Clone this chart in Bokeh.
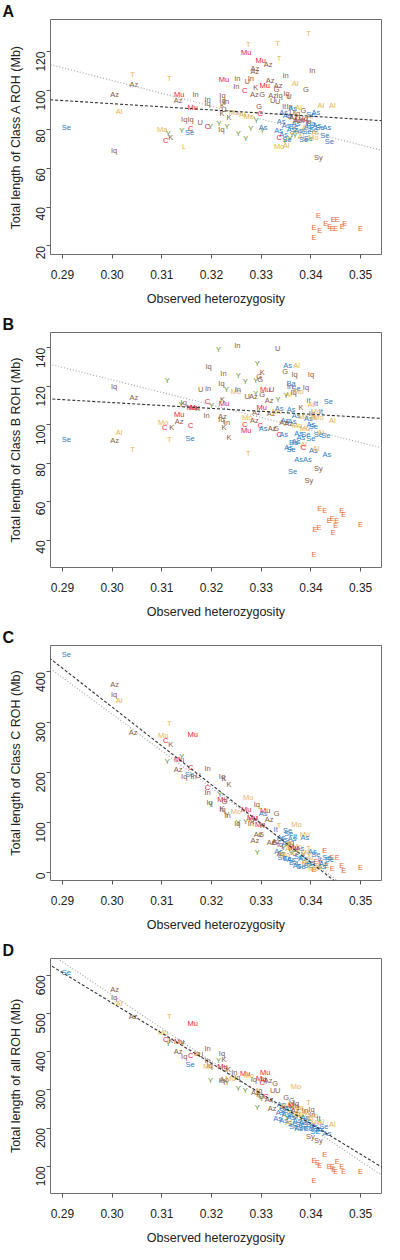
import math
from bokeh.plotting import figure
from bokeh.models import ColumnDataSource, Range1d, FixedTicker, Slope
from bokeh.layouts import column
from bokeh.core.properties import value
from bokeh.embed import file_html
from bokeh.resources import INLINE

# ---------------- data ----------------
x_ticks = [0.29, 0.30, 0.31, 0.32, 0.33, 0.34, 0.35]
panel_letters = ["A", "B", "C", "D"]
y_titles = ["Total length of Class A ROH (Mb)", "Total length of Class B ROH (Mb)",
            "Total length of Class C ROH (Mb)", "Total length of all ROH (Mb)"]
y_ticks_a = [20, 40, 60, 80, 100, 120]
y_ticks_b = [40, 60, 80, 100, 120, 140]
y_ticks_c = [0, 100, 200, 300, 400]
y_ticks_d = [100, 200, 300, 400, 500, 600]

# regression fits (slope, intercept): dashed, dotted
fit_dashed = [(-160.7, 141.4), (-151.7, 157.1), (-7750.0, 2655.0), (-7920.0, 2903.5)]
fit_dotted = [(-662.0, 303.7), (-651.7, 318.9), (-7317.0, 2510.9), (-8695.0, 3156.6)]

points_a = [
    ("T", .3274, 123.7), ("T", .3333, 124.2), ("T", .3395, 129.1), ("T", .3336, 116.5), ("T", .3041, 108.2), ("T", .3115, 106.3),
    ("Mu", .3270, 119.5), ("Mu", .3299, 115.3), ("Az", .3314, 113.6), ("Az", .3287, 111.4), ("Az", .3287, 109.7),
    ("In", .3403, 110.2), ("In", .3349, 107.7), ("Mu", .3225, 105.7), ("In", .3252, 106.0), ("U", .3272, 104.7), ("In", .3279, 106.0),
    ("In", .3250, 102.0), ("K", .3289, 101.6), ("Mu", .3307, 102.6), ("Az", .3318, 105.0), ("Az", .3334, 102.6), ("Al", .3368, 103.5), ("G", .3390, 100.3),
    ("Az", .3044, 103.0), ("Az", .3005, 97.9), ("Mu", .3135, 98.1), ("Az", .3133, 95.0), ("In", .3168, 98.1), ("C", .3267, 100.1), ("Az", .3286, 97.9), ("G", .3302, 97.9),
    ("Az", .3323, 97.6), ("Iq", .3337, 97.6), ("U", .3323, 95.0), ("U", .3333, 94.2), ("Iq", .3351, 98.2), ("U", .3356, 97.1), ("G", .3331, 100.4),
    ("Mu", .3162, 91.3), ("In", .3192, 95.4), ("Iq", .3192, 93.4), ("Iq", .3222, 97.6), ("Iq", .3222, 95.0), ("In", .3229, 94.5), ("K", .3222, 92.5),
    ("K", .3221, 88.3), ("U", .3225, 90.0), ("K", .3235, 86.1), ("Iq", .3145, 84.9), ("Iq", .3158, 85.3), ("U", .3177, 83.7), ("C", .3158, 80.2),
    ("Se", .3156, 78.2), ("C", .3192, 81.2), ("Y", .3198, 81.2), ("Y", .3215, 83.2), ("Iq", .3220, 79.9), ("Y", .3231, 81.2), ("Y", .3254, 77.7),
    ("Y", .3269, 75.1), ("Y", .3279, 80.4), ("Y", .3302, 79.4), ("As", .3304, 80.9), ("Y", .3140, 79.5), ("Ma", .3101, 79.9), ("Y", .3113, 78.0),
    ("K", .3118, 76.0), ("C", .3108, 74.0), ("L", .3145, 71.4), ("Al", .3014, 89.1), ("Se", .2908, 80.7), ("Iq", .3004, 69.2), ("Sy", .3415, 65.5),
    ("Al", .3420, 92.5), ("Al", .3443, 92.0), ("Se", .3428, 76.8), ("Se", .3437, 73.5), ("As", .3432, 80.7), ("Se", .3418, 80.7),
    ("Ma", .3245, 88.5), ("Al", .3262, 87.5), ("Mo", .3275, 86.5), ("Y", .3290, 84.5), ("G", .3296, 91.6), ("C", .3298, 88.2),
    ("It", .3346, 91.7), ("As", .3363, 90.8),
    ("E", .3415, 35.5), ("E", .3406, 29.3), ("E", .3418, 27.9), ("E", .3430, 31.3), ("E", .3438, 30.1), ("E", .3443, 28.8), ("E", .3450, 28.8),
    ("E", .3445, 33.7), ("E", .3453, 33.4), ("E", .3463, 30.1), ("E", .3468, 31.8), ("E", .3406, 24.2), ("E", .3500, 28.9),
    ("As", .3340, 84.0), ("As", .3350, 82.0), ("As", .3335, 79.5), ("As", .3345, 77.5), ("Se", .3352, 75.0), ("As", .3360, 80.0), ("Y", .3348, 74.5),
    ("Y", .3358, 75.5), ("C", .3336, 75.6), ("Mo", .3336, 71.4), ("Al", .3350, 71.8), ("Az", .3365, 86.0), ("Iq", .3372, 88.0), ("Mu", .3378, 85.0),
    ("As", .3370, 83.0), ("It", .3382, 84.5), ("Al", .3388, 81.0), ("Mo", .3378, 78.8), ("Se", .3392, 79.0), ("As", .3395, 81.5), ("Ba", .3400, 83.0),
    ("Se", .3405, 79.8), ("As", .3412, 82.0), ("Al", .3398, 86.5), ("G", .3385, 89.5), ("Se", .3365, 81.2), ("As", .3375, 79.5), ("Y", .3368, 77.0),
    ("Al", .3380, 76.5), ("Se", .3395, 75.5), ("Mo", .3405, 76.0), ("Se", .3400, 87.5), ("As", .3410, 88.5), ("Al", .3375, 91.0), ("U", .3362, 88.5),
    ("G", .3358, 86.5), ("Iq", .3388, 85.5), ("In", .3395, 84.0), ("Y", .3362, 77.2), ("Se", .3385, 74.8), ("Al", .3408, 78.5), ("As", .3352, 87.2),
    ("As", .3345, 88.5), ("In", .3357, 91.5), ("Az", .3372, 84.5),
]

points_b = [
    ("Y", .3214, 139.0), ("In", .3252, 141.5), ("U", .3333, 139.5), ("Y", .3292, 131.8), ("Iq", .3194, 130.5), ("As", .3353, 131.0), ("Al", .3371, 131.0),
    ("G", .3348, 127.9), ("In", .3224, 126.7), ("Y", .3254, 125.9), ("Iq", .3367, 126.3), ("Iq", .3400, 126.2), ("K", .3302, 127.2), ("G", .3296, 125.0),
    ("G", .3298, 123.7), ("Y", .3289, 123.3), ("Y", .3268, 122.8), ("Y", .3111, 123.3), ("Iq", .3220, 121.6), ("Iq", .3004, 119.9), ("U", .3178, 118.2),
    ("In", .3193, 119.1), ("Y", .3230, 118.2), ("Mo", .3249, 117.4), ("In", .3253, 118.3), ("Mu", .3308, 118.6), ("U", .3321, 118.6), ("G", .3302, 115.7),
    ("U", .3272, 114.8), ("Az", .3284, 114.5), ("Y", .3289, 116.5), ("Az", .3044, 114.0), ("Iq", .3144, 111.4), ("Y", .3139, 110.5), ("Y", .3200, 110.1),
    ("C", .3192, 112.3), ("Mu", .3225, 111.1), ("K", .3222, 113.1), ("Mu", .3160, 109.2), ("Mu", .3166, 108.9), ("K", .3172, 108.5), ("Mu", .3301, 108.9),
    ("Az", .3316, 112.6), ("Y", .3334, 113.0), ("As", .3336, 108.4), ("Mu", .3135, 105.5), ("In", .3190, 105.1), ("Az", .3135, 101.6), ("Mo", .3103, 101.1),
    ("C", .3158, 99.5), ("C", .3106, 98.7), ("K", .3120, 98.7), ("Al", .3014, 95.8), ("Se", .2908, 92.4), ("Az", .3005, 91.9), ("T", .3041, 87.3),
    ("T", .3115, 92.4), ("Se", .3157, 93.1), ("K", .3235, 93.6), ("K", .3225, 98.8), ("In", .3231, 101.4), ("Az", .3222, 104.2), ("Iq", .3220, 102.8),
    ("C", .3267, 100.0), ("Mu", .3270, 97.0), ("Mo", .3272, 103.8), ("Az", .3286, 102.4), ("T", .3274, 85.1), ("C", .3298, 99.7), ("As", .3304, 98.3),
    ("Az", .3322, 98.3), ("G", .3330, 98.3), ("C", .3336, 94.8), ("Az", .3320, 106.0), ("Az", .3290, 106.5), ("Mo", .3332, 107.0),
    ("Se", .3435, 111.9), ("Al", .3443, 102.4), ("It", .3420, 107.2), ("As", .3432, 84.6), ("As", .3375, 82.2), ("As", .3393, 82.2), ("Se", .3363, 75.7),
    ("Sy", .3415, 77.1), ("Sy", .3396, 71.0),
    ("E", .3418, 56.5), ("E", .3428, 55.6), ("E", .3462, 55.3), ("E", .3466, 53.3), ("E", .3437, 50.5), ("E", .3443, 51.1), ("E", .3452, 50.2),
    ("E", .3450, 47.6), ("E", .3445, 44.3), ("E", .3408, 45.6), ("E", .3416, 46.8), ("E", .3500, 48.0), ("E", .3406, 32.9),
    ("Ba", .3360, 121.5), ("Se", .3370, 119.0), ("In", .3358, 120.0), ("Iq", .3390, 119.5), ("Al", .3355, 116.0), ("Y", .3350, 115.5), ("Iq", .3365, 117.0),
    ("Mo", .3375, 117.5), ("It", .3395, 112.5), ("It", .3410, 111.0), ("Al", .3400, 110.5), ("As", .3360, 108.0), ("As", .3370, 105.0), ("Mo", .3385, 104.5),
    ("As", .3395, 103.5), ("Iq", .3402, 106.0), ("Mo", .3410, 107.0), ("Al", .3405, 104.0), ("K", .3380, 109.0), ("As", .3348, 102.5), ("Az", .3345, 101.0),
    ("Az", .3355, 100.5), ("As", .3362, 102.0), ("Mo", .3372, 99.5), ("Mo", .3388, 98.0), ("As", .3400, 100.0), ("Se", .3405, 99.0), ("As", .3375, 95.5),
    ("As", .3380, 93.5), ("As", .3370, 91.5), ("Se", .3390, 95.0), ("Se", .3400, 93.0), ("Al", .3385, 90.0), ("C", .3385, 88.0), ("As", .3355, 88.0),
    ("Se", .3360, 87.0), ("Ba", .3365, 91.0), ("Se", .3415, 95.0), ("Al", .3420, 96.0), ("Se", .3430, 94.3), ("As", .3405, 86.5), ("Al", .3410, 87.5),
    ("As", .3345, 95.0), ("Mo", .3415, 104.0),
]

points_c = [
    ("Se", .2908, 435.1), ("Az", .3005, 375.5), ("Iq", .3004, 355.0), ("Al", .3014, 342.5), ("Az", .3042, 279.0), ("T", .3115, 297.5), ("Mu", .3162, 274.3),
    ("Mo", .3103, 272.4), ("C", .3108, 262.4), ("K", .3118, 255.8), ("Y", .3140, 231.4), ("Mu", .3135, 224.7), ("Y", .3111, 221.4), ("Az", .3133, 206.2),
    ("C", .3158, 209.5), ("In", .3192, 208.2), ("Iq", .3145, 191.7), ("Se", .3156, 195.0), ("In", .3164, 191.7), ("U", .3173, 193.0), ("Iq", .3221, 191.7),
    ("K", .3225, 188.4), ("K", .3235, 175.1), ("C", .3192, 169.8), ("In", .3192, 160.0), ("Y", .3217, 156.6), ("Mu", .3222, 145.4), ("G", .3226, 142.0),
    ("Iq", .3196, 140.1), ("Y", .3198, 135.5), ("Iq", .3222, 125.5), ("K", .3221, 128.5), ("Y", .3231, 114.9), ("Mo", .3274, 148.7), ("Iq", .3291, 135.5),
    ("Mu", .3308, 124.2), ("G", .3331, 116.9), ("Mu", .3270, 125.5), ("Mo", .3249, 121.6), ("In", .3232, 113.6), ("As", .3304, 116.9), ("Az", .3316, 105.7),
    ("Y", .3254, 99.1), ("Y", .3269, 101.7), ("Iq", .3252, 97.0), ("In", .3279, 97.1), ("U", .3289, 107.0), ("Mu", .3298, 96.0), ("K", .3302, 94.0),
    ("Mo", .3371, 96.0), ("Az", .3287, 64.0), ("Az", .3294, 75.9), ("G", .3300, 75.9), ("Az", .3320, 59.4), ("G", .3327, 59.4), ("Mo", .3388, 75.9),
    ("As", .3388, 69.3), ("T", .3336, 93.8), ("Y", .3292, 39.6), ("Se", .3353, 83.9), ("It", .3329, 85.8), ("Mu", .3282, 109.5), ("Iq", .3280, 106.0),
    ("E", .3428, 44.2), ("E", .3442, 29.6), ("E", .3453, 29.6), ("E", .3462, 13.1), ("E", .3466, 3.2), ("E", .3500, 9.8), ("E", .3406, 6.5),
    ("E", .3443, 8.5), ("E", .3420, 20.0), ("E", .3432, 15.0), ("E", .3410, 22.0),
    ("As", .3340, 70.0), ("Se", .3355, 78.0), ("As", .3345, 65.0), ("Az", .3330, 62.0), ("Iq", .3338, 55.0), ("As", .3350, 58.0), ("Y", .3345, 50.0),
    ("Al", .3355, 48.0), ("As", .3335, 42.0), ("Az", .3340, 38.0), ("Mo", .3348, 35.0), ("Se", .3352, 28.0), ("As", .3360, 25.0), ("Ba", .3365, 20.0),
    ("Y", .3360, 40.0), ("Al", .3370, 45.0), ("Mo", .3372, 52.0), ("As", .3378, 47.0), ("G", .3368, 38.0), ("Se", .3375, 32.0), ("As", .3383, 28.0),
    ("Al", .3388, 22.0), ("Mo", .3392, 18.0), ("Se", .3395, 14.0), ("As", .3400, 20.0), ("Al", .3398, 30.0), ("Y", .3385, 36.0), ("Mo", .3390, 40.0),
    ("T", .3395, 48.0), ("As", .3403, 42.0), ("Se", .3410, 35.0), ("It", .3418, 25.0), ("As", .3425, 19.0), ("Se", .3432, 30.0), ("Se", .3437, 25.0),
    ("As", .3422, 12.0), ("Al", .3415, 10.0), ("Mo", .3405, 8.0), ("Se", .3380, 12.0), ("As", .3372, 15.0), ("Iq", .3360, 60.0), ("Se", .3342, 30.0),
    ("As", .3362, 68.0), ("It", .3368, 72.0), ("Al", .3355, 55.0), ("Mu", .3365, 50.0),
]

points_d = [
    ("Se", .2908, 606.9), ("Az", .3005, 563.1), ("Iq", .3004, 541.7), ("Al", .3014, 527.1), ("Az", .3042, 492.8), ("T", .3115, 492.8), ("Mu", .3162, 473.9),
    ("Mo", .3103, 450.0), ("C", .3108, 432.8), ("K", .3118, 428.5), ("Y", .3113, 421.6), ("Mu", .3135, 426.8), ("Y", .3142, 420.0), ("In", .3192, 407.0),
    ("Az", .3133, 400.2), ("Iq", .3145, 387.3), ("Se", .3157, 365.9), ("C", .3158, 390.0), ("In", .3171, 394.3), ("U", .3178, 393.0), ("Iq", .3221, 394.3),
    ("K", .3225, 379.8), ("Y", .3214, 377.0), ("In", .3192, 377.0), ("Iq", .3196, 364.2), ("Mo", .3194, 360.0), ("Mu", .3222, 359.9), ("K", .3234, 353.9),
    ("G", .3226, 357.0), ("Y", .3198, 323.8), ("Iq", .3221, 323.8), ("Az", .3225, 326.0), ("Y", .3231, 319.0), ("In", .3246, 344.4), ("Mo", .3238, 330.0),
    ("Iq", .3252, 331.0), ("Mu", .3268, 342.7), ("Mu", .3308, 345.3), ("Y", .3254, 302.4), ("Y", .3268, 298.1), ("Az", .3314, 323.8), ("G", .3328, 315.3),
    ("Mo", .3370, 308.4), ("U", .3323, 298.1), ("U", .3333, 298.1), ("Mo", .3275, 338.0), ("Iq", .3285, 328.0), ("Iq", .3305, 326.0), ("C", .3302, 320.0),
    ("Mu", .3300, 330.0), ("Y", .3292, 254.4), ("Az", .3322, 250.1), ("G", .3350, 280.1), ("As", .3333, 224.4), ("T", .3395, 267.3), ("Iq", .3401, 248.4),
    ("In", .3403, 235.5), ("Al", .3420, 216.7), ("Al", .3443, 208.0), ("Se", .3426, 202.9), ("Sy", .3399, 177.2), ("Sy", .3415, 166.9), ("As", .3432, 185.9),
    ("Az", .3288, 292.0), ("K", .3295, 289.0), ("G", .3300, 283.0), ("In", .3296, 298.0), ("C", .3310, 283.0), ("Y", .3300, 278.0), ("Az", .3316, 276.0),
    ("E", .3428, 130.9), ("E", .3406, 115.5), ("E", .3418, 102.6), ("E", .3453, 112.9), ("E", .3437, 100.0), ("E", .3443, 100.0), ("E", .3446, 91.4),
    ("E", .3462, 98.3), ("E", .3466, 87.4), ("E", .3500, 87.4), ("E", .3450, 85.8), ("E", .3406, 64.0), ("E", .3413, 110.0),
    ("As", .3340, 262.0), ("Az", .3345, 255.0), ("Mo", .3350, 258.0), ("As", .3355, 250.0), ("Iq", .3360, 262.0), ("Mu", .3365, 258.0), ("Mo", .3372, 255.0),
    ("Al", .3378, 250.0), ("G", .3362, 272.0), ("Iq", .3370, 265.0), ("As", .3338, 240.0), ("As", .3350, 235.0), ("Se", .3345, 245.0), ("Y", .3358, 240.0),
    ("As", .3365, 232.0), ("Al", .3372, 238.0), ("Mo", .3380, 235.0), ("As", .3388, 228.0), ("Se", .3392, 220.0), ("Al", .3398, 224.0), ("As", .3385, 214.0),
    ("Se", .3378, 210.0), ("As", .3372, 220.0), ("Se", .3362, 212.0), ("Al", .3355, 215.0), ("As", .3345, 220.0), ("Y", .3352, 228.0), ("Se", .3400, 210.0),
    ("As", .3405, 205.0), ("Mo", .3410, 215.0), ("Se", .3412, 200.0), ("As", .3418, 195.0), ("Se", .3408, 190.0), ("Ba", .3395, 200.0), ("Se", .3383, 202.0),
    ("As", .3375, 198.0), ("Se", .3365, 205.0), ("Al", .3390, 240.0), ("In", .3388, 245.0), ("Mo", .3405, 232.0), ("It", .3415, 225.0), ("As", .3360, 228.0),
    ("Y", .3380, 228.0), ("Az", .3368, 245.0),
]

# ---------------- styling ----------------
BROWN, RED, GOLD, GREEN, BLUE, ORANGE = "#8b5a3c", "#e8173a", "#e9b44c", "#5e8c31", "#2f7ec4", "#e8692e"
group_color = {
    "Az": BROWN, "In": BROWN, "Iq": BROWN, "K": BROWN, "U": BROWN, "G": BROWN, "Sy": BROWN,
    "Mu": RED, "C": RED,
    "T": GOLD, "Al": GOLD, "Mo": GOLD, "Ma": GOLD, "L": GOLD,
    "Y": GREEN,
    "Se": BLUE, "As": BLUE, "It": BLUE, "Ba": BLUE,
    "E": ORANGE,
}

panels = [
    (points_a, (15.6, 136.5), y_ticks_a),
    (points_b, (25.9, 148.0), y_ticks_b),
    (points_c, (-15.9, 452.8), y_ticks_c),
    (points_d, (28.7, 643.7), y_ticks_d),
]

FONT = "Liberation Sans"
H = 313
figs = []
for i, (pts, yr, yt) in enumerate(panels):
    labels = [p[0] for p in pts]
    het = [p[1] for p in pts]
    roh = [p[2] for p in pts]
    src = ColumnDataSource(dict(x=het, y=roh, label=labels, color=[group_color[l] for l in labels]))

    p = figure(width=392, height=H, output_backend="svg", toolbar_location=None,
               x_range=Range1d(0.2876, 0.3542), y_range=Range1d(*yr),
               min_border_left=50, min_border_right=11, min_border_top=15, min_border_bottom=59)
    p.grid.visible = False
    p.outline_line_color = "#6e6e6e"
    p.outline_line_width = 1
    p.background_fill_color = "white"
    p.border_fill_color = "white"

    p.title.text = panel_letters[i]
    p.title.align = "left"
    p.title.offset = -48
    p.title.standoff = 0
    p.title.text_font = FONT
    p.title.text_font_style = "bold"
    p.title.text_font_size = "16px"
    p.title.text_color = "#111111"

    p.text(x="x", y="y", text="label", source=src, text_color="color",
           text_font=value(FONT), text_font_size="7.5px", text_align="center", text_baseline="middle")

    sd, icd = fit_dashed[i]
    so, ico = fit_dotted[i]
    p.add_layout(Slope(gradient=so, y_intercept=ico, line_color="#a8a8a8", line_dash="1 2", line_width=1.2))
    p.add_layout(Slope(gradient=sd, y_intercept=icd, line_color="#333333", line_dash="3 2", line_width=1.1))

    for ax in (p.xaxis[0], p.yaxis[0]):
        ax.axis_line_color = None
        ax.major_tick_line_color = "#555555"
        ax.major_tick_out = 4
        ax.major_tick_in = 0
        ax.minor_tick_line_color = None
        ax.major_label_text_font = FONT
        ax.major_label_text_font_size = "12px"
        ax.major_label_text_color = "#222222"
        ax.axis_label_text_font = FONT
        ax.axis_label_text_font_size = "12.5px"
        ax.axis_label_text_font_style = "normal"
        ax.axis_label_text_color = "#222222"

    p.xaxis[0].ticker = FixedTicker(ticks=x_ticks)
    p.xaxis[0].major_label_overrides = {t: f"{t:.2f}" for t in x_ticks}
    p.xaxis[0].major_label_standoff = 11
    p.xaxis[0].axis_label = "Observed heterozygosity"
    p.xaxis[0].axis_label_standoff = 10

    p.yaxis[0].ticker = FixedTicker(ticks=yt)
    p.yaxis[0].major_label_orientation = math.pi / 2
    p.yaxis[0].major_label_standoff = 6
    p.yaxis[0].axis_label = y_titles[i]
    p.yaxis[0].axis_label_standoff = 6

    figs.append(p)

layout = column(*figs, spacing=0)
open("out.html", "w").write(file_html(layout, INLINE))
